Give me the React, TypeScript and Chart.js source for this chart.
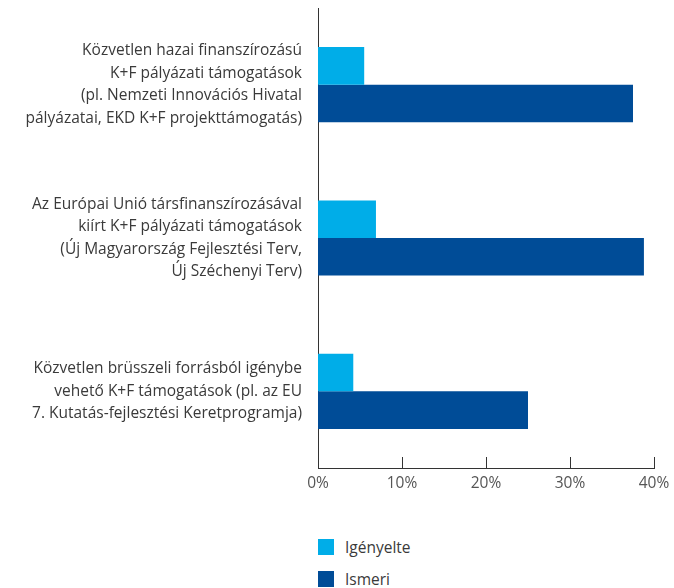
import React, { useEffect, useRef } from "react";
import { Chart, registerables } from "chart.js";

Chart.register(...registerables);

const categories: string[][] = [
  [
    "Közvetlen hazai finanszírozású",
    "K+F pályázati támogatások",
    "(pl. Nemzeti Innovációs Hivatal",
    "pályázatai, EKD K+F projekttámogatás)",
  ],
  [
    "Az Európai Unió társfinanszírozásával",
    "kiírt K+F pályázati támogatások",
    "(Új Magyarország Fejlesztési Terv,",
    "Új Széchenyi Terv)",
  ],
  [
    "Közvetlen brüsszeli forrásból igénybe",
    "vehető K+F támogatások (pl. az EU",
    "7. Kutatás-fejlesztési Keretprogramja)",
  ],
];

const seriesNames = ["Igényelte", "Ismeri"];
const igenyelte = [5.5, 6.9, 4.2];
const ismeri = [37.5, 38.8, 25.0];
const seriesColors = ["#00ADE8", "#004C97"];
const xTicks = [0, 10, 20, 30, 40];

const FONT = "'Open Sans', 'DejaVu Sans', sans-serif";

if (typeof document !== "undefined") {
  document.body.style.margin = "0";
}

const innerTicks = {
  id: "innerTicks",
  afterDraw(chart: any) {
    const x = chart.scales.x;
    const ctx = chart.ctx;
    const bottom = chart.chartArea.bottom;
    ctx.save();
    ctx.strokeStyle = "#333";
    ctx.lineWidth = 1;
    for (const v of xTicks) {
      const px = Math.round(x.getPixelForValue(v)) + 0.5;
      ctx.beginPath();
      ctx.moveTo(px, bottom);
      ctx.lineTo(px, bottom - 11);
      ctx.stroke();
    }
    ctx.restore();
  },
};

export default function App() {
  const ref = useRef<HTMLCanvasElement | null>(null);
  useEffect(() => {
    document.body.style.margin = "0";
    if (!ref.current) return;
    const chart = new Chart(ref.current, {
      type: "bar",
      data: {
        labels: categories as any,
        datasets: [
          {
            label: seriesNames[0],
            data: igenyelte,
            backgroundColor: seriesColors[0],
            barPercentage: 1,
            categoryPercentage: 0.49,
          },
          {
            label: seriesNames[1],
            data: ismeri,
            backgroundColor: seriesColors[1],
            barPercentage: 1,
            categoryPercentage: 0.49,
          },
        ],
      },
      plugins: [innerTicks],
      options: {
        indexAxis: "y",
        responsive: false,
        animation: false,
        layout: { padding: { top: 0, right: 20, left: 0, bottom: 0 } },
        plugins: {
          legend: { display: false },
          tooltip: { enabled: false },
        },
        scales: {
          x: {
            min: 0,
            max: 40,
            afterBuildTicks: (s: any) => {
              s.ticks = xTicks.map((v) => ({ value: v }));
            },
            afterFit: (s: any) => {
              s.height = 30;
              s.paddingLeft = 0;
              s.paddingRight = 0;
            },
            grid: { display: false, drawTicks: false },
            border: { display: true, color: "#333", width: 1 },
            ticks: {
              padding: 6,
              color: "#555",
              font: { family: FONT, size: 15.5 },
              callback: (v: any) => v + "%",
            },
          },
          y: {
            grid: { display: false, drawTicks: false },
            border: { display: true, color: "#333", width: 1 },
            afterFit: (s: any) => {
              s.width = 310;
              s.paddingTop = 0;
              s.paddingBottom = 0;
            },
            ticks: {
              padding: 16,
              color: "#3a3a3a",
              font: { family: FONT, size: 15.5, lineHeight: 1.45 },
            },
          },
        },
      },
    });
    return () => chart.destroy();
  }, []);

  return (
    <div style={{ position: "relative", width: 674, height: 588, overflow: "hidden", background: "#fff" }}>
      <canvas
        ref={ref}
        width={666}
        height={490}
        style={{ display: "block", position: "absolute", left: 8, top: 8 }}
      />
      {seriesNames.map((n, i) => (
        <div
          key={n}
          style={{
            position: "absolute",
            left: 318,
            top: 539 + i * 32,
            display: "flex",
            alignItems: "center",
            fontFamily: FONT,
            fontSize: 15.5,
            lineHeight: "16px",
            height: 16,
            color: "#3a3a3a",
            whiteSpace: "nowrap",
          }}
        >
          <span
            style={{
              display: "inline-block",
              width: 16,
              height: 16,
              background: seriesColors[i],
              marginRight: 11,
            }}
          />
          {n}
        </div>
      ))}
    </div>
  );
}
